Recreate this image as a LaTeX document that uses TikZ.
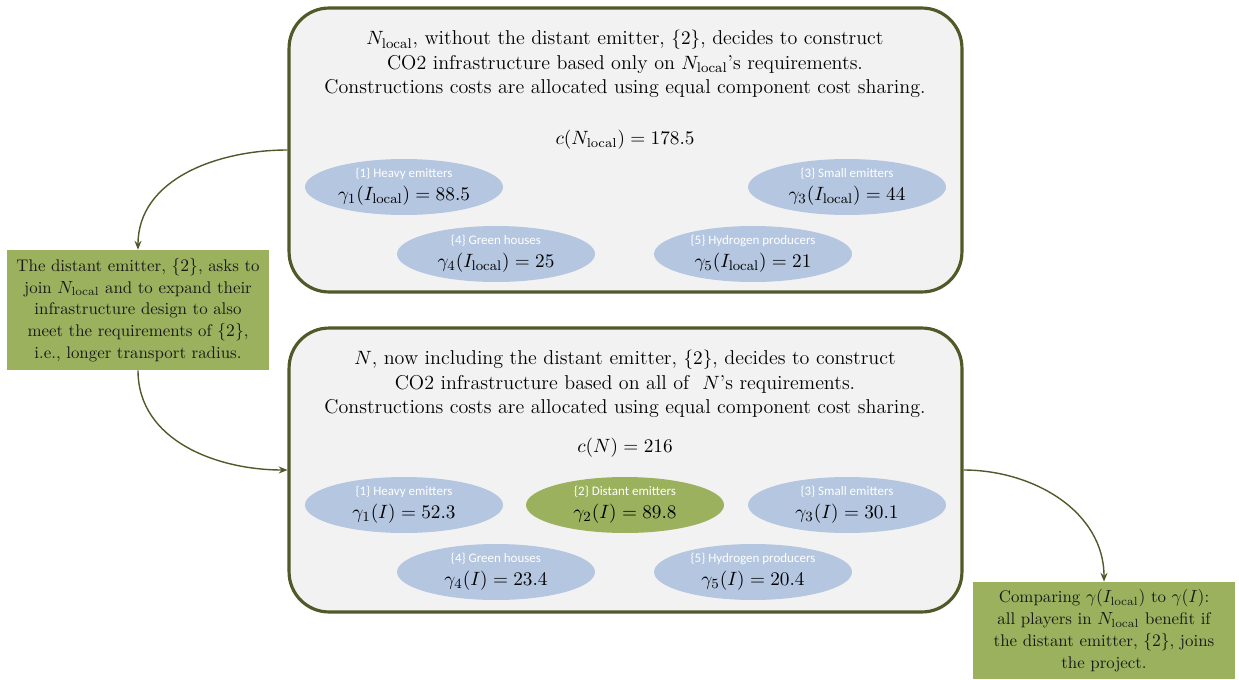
\documentclass[tikz,border=0pt]{standalone}
\usepackage{amsmath}
\usepackage{fontspec}
\newfontfamily\calibri{Carlito}
\usetikzlibrary{shapes.geometric, arrows.meta}

\definecolor{boxgray}{RGB}{242,242,242}
\definecolor{olivedark}{RGB}{79,90,40}
\definecolor{olivegreen}{RGB}{155,177,94}
\definecolor{playerblue}{RGB}{180,198,224}

\begin{document}
\begin{tikzpicture}[x=0.02cm, y=-0.02cm, >={Stealth[length=5pt,width=4pt]},
  scenario/.style={draw=olivedark, line width=1.8pt, fill=boxgray, rounded corners=0.8cm,
    minimum width=13.46cm, minimum height=5.68cm},
  note/.style={fill=olivegreen, text=black!90, align=center, inner sep=0pt,
    font=\fontsize{9.6}{12.4}\selectfont},
  player/.style={ellipse, fill=playerblue, minimum width=3.96cm, minimum height=1.12cm,
    inner sep=0pt, align=center, font=\fontsize{11.3}{12}\selectfont},
  link/.style={->, draw=olivedark, line width=0.8pt}]

\useasboundingbox (0,0) rectangle (1239,679);

% Scenario boxes
\node[scenario] (local) at (625.5,150) {};
\node[scenario] (full) at (625.5,470) {};

% Side notes
\node[note, minimum width=5.24cm, minimum height=2.4cm] (ask) at (138,310)
  {The distant emitter, $\{2\}$, asks to\\
   join $N_{\mathrm{local}}$ and to expand their\\
   infrastructure design to also\\
   meet the requirements of $\{2\}$,\\
   i.e., longer transport radius.};
\node[note, minimum width=5.24cm, minimum height=1.94cm] (compare) at (1104,630.5)
  {Comparing $\gamma(I_{\mathrm{local}})$ to $\gamma(I)$:\\
   all players in $N_{\mathrm{local}}$ benefit if\\
   the distant emitter, $\{2\}$, joins\\
   the project.};

% Texts of the local scenario
\node[align=center, font=\fontsize{11.4}{13.8}\selectfont] (localtxt) at (625,64)
  {$N_{\mathrm{local}}$, without the distant emitter, $\{2\}$, decides to construct\\
   CO2 infrastructure based only on $N_{\mathrm{local}}$'s requirements.\\
   Constructions costs are allocated using equal component cost sharing.};
\node[font=\fontsize{10.6}{13}\selectfont] (localcost) at (625,140) {$c(N_{\mathrm{local}}) = 178.5$};

\node[player] (l1) at (404,187) {{\calibri\fontsize{7.4}{8}\selectfont\color{white}\{1\} Heavy emitters}\\[1pt] $\gamma_1(I_{\mathrm{local}}) = 88.5$};
\node[player] (l3) at (847,187) {{\calibri\fontsize{7.4}{8}\selectfont\color{white}\{3\} Small emitters}\\[1pt] $\gamma_3(I_{\mathrm{local}}) = 44$};
\node[player] (l4) at (496,254) {{\calibri\fontsize{7.4}{8}\selectfont\color{white}\{4\} Green houses}\\[1pt] $\gamma_4(I_{\mathrm{local}}) = 25$};
\node[player] (l5) at (753,254) {{\calibri\fontsize{7.4}{8}\selectfont\color{white}\{5\} Hydrogen producers}\\[1pt] $\gamma_5(I_{\mathrm{local}}) = 21$};

% Texts of the full scenario
\node[align=center, font=\fontsize{11.4}{13.8}\selectfont] (fulltxt) at (625,384)
  {$N$, now including the distant emitter, $\{2\}$, decides to construct\\
   CO2 infrastructure based on all of\ \ $N$'s requirements.\\
   Constructions costs are allocated using equal component cost sharing.};
\node[font=\fontsize{10.6}{13}\selectfont] (fullcost) at (625,448) {$c(N) = 216$};

\node[player] (f1) at (404,505) {{\calibri\fontsize{7.4}{8}\selectfont\color{white}\{1\} Heavy emitters}\\[1pt] $\gamma_1(I) = 52.3$};
\node[player, fill=olivegreen] (f2) at (625,505) {{\calibri\fontsize{7.4}{8}\selectfont\color{white}\{2\} Distant emitters}\\[1pt] $\gamma_2(I) = 89.8$};
\node[player] (f3) at (847,505) {{\calibri\fontsize{7.4}{8}\selectfont\color{white}\{3\} Small emitters}\\[1pt] $\gamma_3(I) = 30.1$};
\node[player] (f4) at (496,572) {{\calibri\fontsize{7.4}{8}\selectfont\color{white}\{4\} Green houses}\\[1pt] $\gamma_4(I) = 23.4$};
\node[player] (f5) at (753,572) {{\calibri\fontsize{7.4}{8}\selectfont\color{white}\{5\} Hydrogen producers}\\[1pt] $\gamma_5(I) = 20.4$};

% Connectors
\draw[link] (local.west) to[out=180, in=90] (ask.north);
\draw[link] (ask.south) to[out=-90, in=180] (full.west);
\draw[link] (full.east) to[out=0, in=90] (compare.north);

\end{tikzpicture}
\end{document}
